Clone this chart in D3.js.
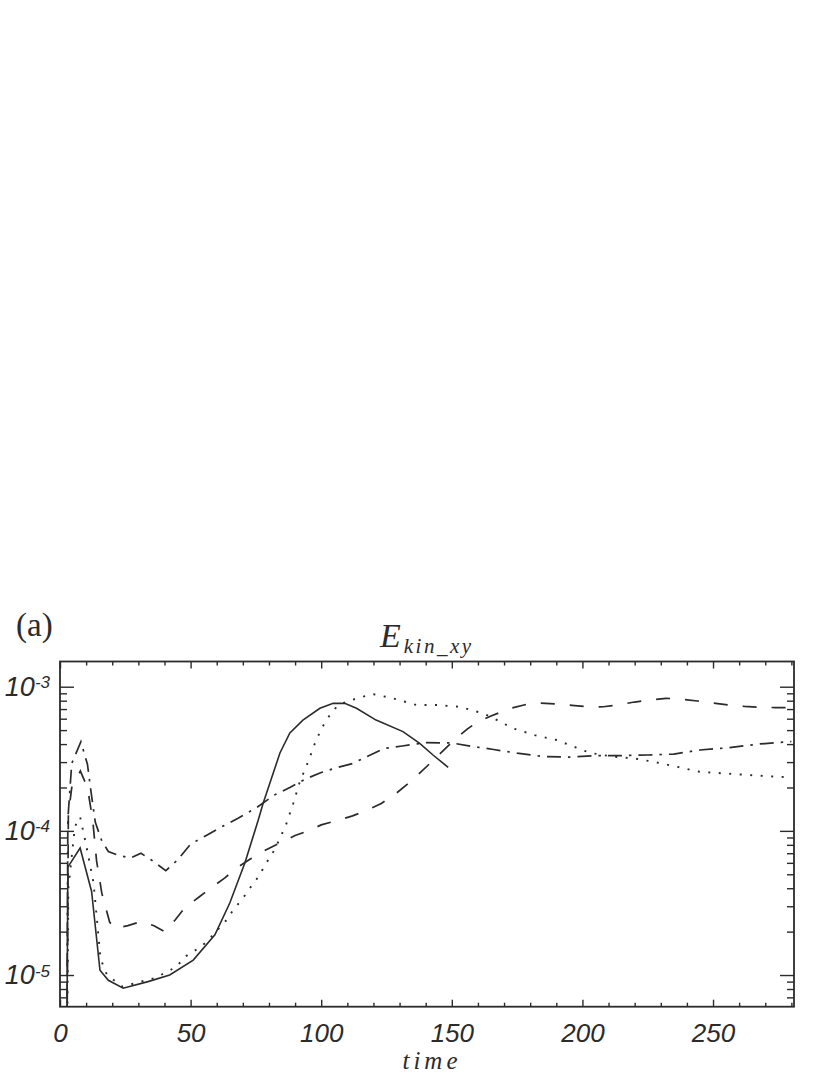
<html>
<head>
<style>
  body { margin: 0; background: #ffffff; }
  svg { display: block; }
</style>
<script src="https://d3js.org/d3.v7.min.js"></script>
</head>
<body>
<svg id="chart"></svg>
<script>

// time samples and E_kin_xy values, one pair per curve
let solidT = [2.5, 3.0, 7.7, 12.1, 15.3, 18.5, 24.2, 33.7, 42, 51, 59.3, 65, 70.8, 75.9, 77.8, 84.2, 88, 93, 99.5, 104.6, 109, 113.5, 121, 131.3, 137.7, 142.8, 148.6]
let solidE = [1e-6, 5.6e-5, 7.6e-5, 3.8e-5, 1.08e-5, 9.2e-6, 8.1e-6, 9.0e-6, 1.0e-5, 1.27e-5, 1.9e-5, 3.16e-5, 6.0e-5, 1.19e-4, 1.56e-4, 3.47e-4, 4.78e-4, 5.87e-4, 7.08e-4, 7.67e-4, 7.67e-4, 7.08e-4, 5.87e-4, 4.88e-4, 4.05e-4, 3.36e-4, 2.76e-4]

let dottedT = [2.5, 3.2, 5.7, 7.7, 10, 12.8, 14, 15.5, 18, 24, 30, 36, 40, 44.6, 47.8, 51, 54.8, 58, 63.8, 66.3, 68.9, 71.4, 74, 76.5, 78.4, 81, 83, 86.5, 89.3, 91.8, 95, 97.6, 100.1, 103.3, 106.5, 111.6, 116, 120, 127.5, 136.5, 144, 153, 162, 166, 173.4, 181.7, 190, 198.3, 202.8, 211.7, 219.3, 227, 236, 244.8, 257.6, 270.3, 280]
let dottedE = [1e-6, 4e-5, 1.07e-4, 1.25e-4, 8e-5, 4.4e-5, 2.6e-5, 1.3e-5, 1.0e-5, 8.3e-6, 8.9e-6, 9.5e-6, 1.03e-5, 1.14e-5, 1.34e-5, 1.45e-5, 1.62e-5, 1.85e-5, 2.41e-5, 2.83e-5, 3.22e-5, 3.69e-5, 4.33e-5, 4.94e-5, 5.79e-5, 6.8e-5, 7.98e-5, 1.1e-4, 1.55e-4, 2.19e-4, 3.02e-4, 4.05e-4, 5.14e-4, 6.36e-4, 7.46e-4, 8.09e-4, 8.53e-4, 8.86e-4, 8.31e-4, 7.46e-4, 7.46e-4, 7.26e-4, 6.53e-4, 6.04e-4, 5.14e-4, 4.62e-4, 4.27e-4, 3.74e-4, 3.48e-4, 3.27e-4, 3.19e-4, 3.02e-4, 2.79e-4, 2.57e-4, 2.48e-4, 2.40e-4, 2.35e-4]

let dashedT = [2.5, 3.2, 4.5, 7.8, 10.5, 12.5, 14, 16, 19, 21, 26, 31, 36, 40, 44, 48, 53, 58, 63, 68, 73, 78, 84, 90, 95, 100, 106, 112, 118, 123, 128, 133, 138, 142, 147, 151, 156, 160, 165, 172, 178, 183, 190, 196, 202, 208, 214, 220, 226, 232, 238, 244, 250, 256, 262, 268, 274, 280]
let dashedE = [1e-6, 1.3e-4, 2.0e-4, 2.6e-4, 2.0e-4, 1.2e-4, 6.2e-5, 3.7e-5, 2.33e-5, 2.1e-5, 2.2e-5, 2.35e-5, 2.2e-5, 2.0e-5, 2.4e-5, 2.96e-5, 3.45e-5, 4.05e-5, 4.7e-5, 5.6e-5, 6.4e-5, 7.25e-5, 8.2e-5, 9.3e-5, 1.0e-4, 1.1e-4, 1.18e-4, 1.27e-4, 1.4e-4, 1.55e-4, 1.78e-4, 2.11e-4, 2.55e-4, 2.98e-4, 3.65e-4, 4.27e-4, 5.1e-4, 5.72e-4, 6.26e-4, 7.04e-4, 7.5e-4, 7.71e-4, 7.6e-4, 7.43e-4, 7.25e-4, 7.26e-4, 7.5e-4, 7.83e-4, 8.1e-4, 8.31e-4, 8.2e-4, 7.96e-4, 7.7e-4, 7.46e-4, 7.3e-4, 7.19e-4, 7.17e-4, 7.17e-4]

let dashDotT = [2.5, 3.0, 4.5, 8.0, 10.5, 12, 13.5, 16, 18.5, 22, 27, 31, 35, 40.5, 45, 50, 56, 62, 68, 75, 82, 88, 94, 100, 106, 112, 118, 124, 131, 140, 150, 158, 166, 175, 185, 195, 205, 215, 225, 235, 245, 255, 268, 280]
let dashDotE = [1e-6, 1.2e-4, 2.94e-4, 4.15e-4, 2.9e-4, 1.8e-4, 1.15e-4, 8.5e-5, 7.2e-5, 6.8e-5, 6.48e-5, 6.99e-5, 6.28e-5, 5.3e-5, 6.28e-5, 8.1e-5, 9.3e-5, 1.07e-4, 1.22e-4, 1.44e-4, 1.77e-4, 2.0e-4, 2.29e-4, 2.54e-4, 2.75e-4, 2.93e-4, 3.31e-4, 3.73e-4, 3.88e-4, 4.09e-4, 4.07e-4, 3.85e-4, 3.67e-4, 3.46e-4, 3.28e-4, 3.25e-4, 3.33e-4, 3.33e-4, 3.36e-4, 3.41e-4, 3.64e-4, 3.76e-4, 4.01e-4, 4.17e-4]

let xMajor = [0, 50, 100, 150, 200, 250]
let yMajor = [1e-5, 1e-4, 1e-3]
let yExp = ["-5", "-4", "-3"]
let titleMain = "E"
let titleSub = "kin_xy"
let xTitle = "time"
let panelLabel = "(a)"

let ink = "#2b2b2b"

function getConfig() {
  let width = 830
  let height = 1075
  let margin = {left: 60, right: 36, top: 661.5, bottom: 68.3}
  let innerW = width - margin.left - margin.right
  let innerH = height - margin.top - margin.bottom
  let svg = d3.select("#chart").attr("width", width).attr("height", height)
  svg.append("rect").attr("width", width).attr("height", height).attr("fill", "#ffffff")
  let g = svg.append("g").attr("transform", `translate(${margin.left},${margin.top})`)
  return {width, height, margin, innerW, innerH, svg, g}
}

function drawAxes(config, x, y) {
  let {g, innerW, innerH} = config

  let xMinor = d3.range(0, 281, 10).filter(d => d % 50 != 0)
  let yMinor = []
  for (let e = -6; e <= -3; e++) {
    for (let m = 2; m <= 9; m++) {
      let v = m * Math.pow(10, e)
      if (v >= y.domain()[0] && v <= y.domain()[1]) yMinor.push(v)
    }
  }

  // bottom and top: minor then major ticks, pointing inward
  g.append("g").attr("transform", `translate(0,${innerH})`)
    .call(d3.axisBottom(x).tickValues(xMinor).tickSize(-4).tickFormat(""))
  g.append("g").attr("transform", `translate(0,${innerH})`)
    .attr("class", "xlab")
    .call(d3.axisBottom(x).tickValues(xMajor).tickSize(-7).tickPadding(17).tickFormat(d3.format("d")))
  g.append("g")
    .call(d3.axisTop(x).tickValues(xMinor).tickSize(-4).tickFormat(""))
  g.append("g")
    .call(d3.axisTop(x).tickValues(xMajor).tickSize(-7).tickFormat(""))

  // left and right
  g.append("g")
    .call(d3.axisLeft(y).tickValues(yMinor).tickSize(-7).tickFormat(""))
  g.append("g").attr("class", "ylab")
    .call(d3.axisLeft(y).tickValues(yMajor).tickSize(-14).tickPadding(10).tickFormat(""))
  g.append("g").attr("transform", `translate(${innerW},0)`)
    .call(d3.axisRight(y).tickValues(yMinor).tickSize(-7).tickFormat(""))
  g.append("g").attr("transform", `translate(${innerW},0)`)
    .call(d3.axisRight(y).tickValues(yMajor).tickSize(-14).tickFormat(""))

  g.selectAll(".domain").remove()
  g.selectAll(".tick line").attr("stroke", ink).attr("stroke-width", 1.4)

  g.selectAll(".xlab text")
    .attr("font-family", "Liberation Sans, Arial, sans-serif")
    .attr("font-style", "italic")
    .attr("font-size", 26)
    .attr("fill", ink)

  g.selectAll(".ylab .tick").each(function(d, i) {
    let t = d3.select(this).select("text")
      .attr("font-family", "Liberation Sans, Arial, sans-serif")
      .attr("font-style", "italic")
      .attr("font-size", 27)
      .attr("fill", ink)
      .attr("text-anchor", "end")
    t.append("tspan").text("10")
    t.append("tspan").attr("dy", "-0.45em").attr("font-size", 17).text(yExp[i])
  })

  // frame
  g.append("rect")
    .attr("width", innerW).attr("height", innerH)
    .attr("fill", "none").attr("stroke", ink).attr("stroke-width", 1.8)
}

function drawLines(config, x, y) {
  let {g, innerW, innerH} = config
  g.append("clipPath").attr("id", "plotClip")
    .append("rect").attr("width", innerW).attr("height", innerH)

  let series = [
    {t: dottedT, e: dottedE, dash: "2,8.5", w: 1.9},
    {t: dashDotT, e: dashDotE, dash: "14,7,2.5,7", w: 1.7},
    {t: dashedT, e: dashedE, dash: "14,15", w: 1.7},
    {t: solidT, e: solidE, dash: null, w: 1.6}
  ]

  let line = d3.line()
    .x(d => x(d[0]))
    .y(d => y(d[1]))

  g.append("g").attr("clip-path", "url(#plotClip)")
    .selectAll("path").data(series)
    .enter().append("path")
    .attr("d", s => line(s.t.map((t, i) => [t, s.e[i]])))
    .attr("fill", "none")
    .attr("stroke", ink)
    .attr("stroke-width", s => s.w)
    .attr("stroke-dasharray", s => s.dash)
}

function drawText(config) {
  let {svg} = config
  svg.append("text")
    .attr("x", 16).attr("y", 636)
    .attr("font-family", "Liberation Serif, Times New Roman, serif")
    .attr("font-size", 33)
    .attr("fill", ink)
    .text(panelLabel)

  let title = svg.append("text")
    .attr("x", 380).attr("y", 647)
    .attr("font-family", "Liberation Serif, Times New Roman, serif")
    .attr("font-style", "italic")
    .attr("fill", ink)
  title.append("tspan").attr("font-size", 34).text(titleMain)
  title.append("tspan").attr("font-size", 21).attr("dy", 6).attr("dx", 3)
    .attr("letter-spacing", 2.5).text(titleSub)

  svg.append("text")
    .attr("x", 432).attr("y", 1069)
    .attr("text-anchor", "middle")
    .attr("font-family", "Liberation Serif, Times New Roman, serif")
    .attr("font-style", "italic")
    .attr("font-size", 25)
    .attr("letter-spacing", 4)
    .attr("fill", ink)
    .text(xTitle)
}

function drawChart() {
  let config = getConfig()
  let x = d3.scaleLinear().domain([0, 281]).range([0, config.innerW])
  let y = d3.scaleLog().domain([6.03e-6, 1.496e-3]).range([config.innerH, 0])
  drawLines(config, x, y)
  drawAxes(config, x, y)
  drawText(config)
}

drawChart()

</script>
</body>
</html>
